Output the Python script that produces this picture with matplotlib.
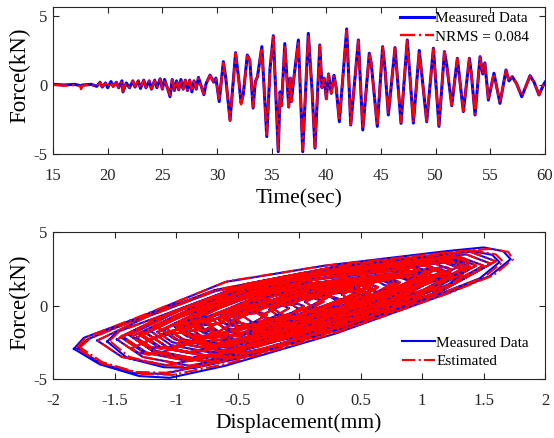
import matplotlib
matplotlib.use("Agg")
import matplotlib.pyplot as plt
import numpy as np

plt.rcParams['font.family'] = ['Liberation Serif', 'DejaVu Serif']
plt.rcParams['axes.unicode_minus'] = False

# ---------------- top panel: force time history (extrema) -------------
time_sec = [15.0, 16.0, 17.0, 17.5, 17.56, 17.7, 18.0, 18.5, 19.0, 19.3, 19.5, 19.8, 20.0, 20.3,
            20.5, 20.8, 21.0, 21.3, 21.4, 21.7, 22.0, 22.3, 22.5, 22.8, 23.0, 23.3, 23.5, 23.8,
            24.0, 24.3, 24.5, 24.8, 25.0, 25.2, 25.5, 25.7, 25.9, 26.1, 26.3, 26.5, 26.7, 26.9,
            27.1, 27.3, 27.5, 27.7, 27.9, 28.1, 28.3, 28.6, 28.8, 29.0, 29.36, 29.7, 29.9, 30.2,
            30.58, 30.8, 31.19, 31.7, 32.0, 32.2, 32.4, 32.77, 33.0, 33.3, 33.5, 33.7, 34.1, 34.55,
            34.85, 35.15, 35.6, 35.77, 35.9, 36.2, 36.56, 36.7, 36.8, 37.0, 37.44, 37.84, 38.35,
            38.7, 38.96, 39.4, 39.6, 39.8, 40.0, 40.2, 40.45, 40.7, 40.9, 41.19, 41.86, 42.23,
            42.93, 43.33, 43.93, 44.1, 44.66, 45.15, 45.35, 45.67, 46.28, 46.83, 47.4, 47.96,
            48.5, 49.18, 49.79, 50.3, 50.8, 51.0, 51.47, 51.98, 52.53, 53.08, 53.25, 53.6, 54.06,
            54.3, 54.5, 54.82, 55.33, 55.88, 56.43, 56.7, 57.0, 57.4, 57.87, 58.63, 59.0, 59.45,
            59.85, 60.0]
force_measured = [0.05, 0.0, 0.05, -0.05, -0.05, 0.0, 0.02, 0.05, -0.1, 0.2, -0.15, 0.15, -0.2, 0.25,
                  -0.1, 0.2, -0.2, 0.3, -0.5, 0.15, -0.2, 0.3, -0.15, 0.3, -0.25, 0.35, -0.2, 0.3,
                  -0.3, 0.35, -0.2, 0.45, -0.3, 0.4, -0.3, -0.85, 0.4, -0.4, 0.3, -0.35, 0.4, -0.3,
                  0.35, -0.4, 0.35, -0.5, 0.3, -0.3, 0.55, -0.2, -0.7, 0.1, 0.72, 0.2, 0.5, -1.2,
                  1.69, 0.5, -2.54, 2.34, 0.3, -1.3, -0.7, 2.17, 1.8, -1.67, 0.24, 0.6, 2.78, -3.74,
                  1.2, 3.57, -4.83, -0.5, -1.5, 3.0, -1.6, 0.5, -1.2, 0.3, 3.26, -4.83, 3.74,
                  -0.5, -4.57, 2.9, -0.2, 0.5, -1.0, 0.8, -0.6, 0.7, -0.2, -2.66, 4.06, -2.9,
                  3.26, -3.26, 2.3, 1.6, -3.0, 2.78, 1.3, -2.17, 2.71, -2.78, 3.26, -2.76,
                  2.5, -2.66, 2.66, -3.0, 2.42, 1.5, -1.5, 1.93, -1.93, 1.93, 0.9, -2.17, 2.05,
                  0.8, 1.6, -1.09, 0.85, -1.33, 1.09, 0.3, 0.6, 0.1, -0.85, 0.68, 0.2, -0.72,
                  0.0, 0.2]
force_estimated = [0.02, -0.05, 0.0, -0.1, -0.3, -0.05, -0.02, 0.0, -0.12, 0.18, -0.12, 0.12, -0.15, 0.22,
                   -0.12, 0.18, -0.18, 0.28, -0.45, 0.12, -0.18, 0.28, -0.12, 0.28, -0.22, 0.32, -0.18, 0.28,
                   -0.28, 0.32, -0.18, 0.42, -0.28, 0.38, -0.28, -0.75, 0.38, -0.38, 0.28, -0.32, 0.38, -0.28,
                   0.32, -0.38, 0.32, -0.45, 0.28, -0.28, 0.5, -0.2, -0.65, 0.1, 0.7, 0.2, 0.45, -1.1,
                   1.6, 0.5, -2.6, 2.3, 0.3, -1.4, -0.7, 2.1, 1.8, -1.6, 0.2, 0.6, 2.7, -3.6,
                   1.2, 3.5, -4.7, -0.5, -1.5, 2.9, -1.6, 0.5, -1.2, 0.3, 3.2, -4.7, 3.65,
                   -0.5, -4.5, 2.85, -0.2, 0.5, -1.0, 0.8, -0.6, 0.7, -0.2, -2.6, 3.95, -2.85,
                   3.2, -3.2, 2.3, 1.6, -2.95, 2.75, 1.3, -2.1, 2.65, -2.7, 3.2, -2.7,
                   2.45, -2.6, 2.6, -2.9, 2.4, 1.5, -1.45, 1.9, -1.9, 1.9, 0.9, -2.1, 2.0,
                   0.8, 1.55, -1.05, 0.85, -1.3, 1.05, 0.3, 0.6, 0.1, -0.8, 0.65, 0.2, -0.7,
                   0.0, 0.2]

# ---------------- bottom panel: force-displacement loops -------------
# three outermost loops, 16 vertices per loop
outer_disp_measured = [-1.83, -1.75, -1.30, -0.60, 0.20, 1.20, 1.50, 1.66, 1.72, 1.55, 1.20, 0.30, -0.60, -1.05, -1.30, -1.62,
                       -1.56, -1.48, -1.07, -0.44, 0.28, 1.15, 1.41, 1.57, 1.63, 1.47, 1.18, 0.37, -0.44, -0.85, -1.10, -1.40,
                       -1.80, -1.72, -1.32, -0.69, 0.03, 0.92, 1.16, 1.32, 1.38, 1.22, 0.93, 0.12, -0.69, -1.10, -1.35, -1.62]
outer_force_measured = [-2.95, -2.20, -0.80, 1.60, 2.70, 3.70, 3.95, 3.70, 3.15, 2.00, 0.80, -1.90, -4.10, -4.92, -4.80, -4.00,
                        -2.45, -1.80, -0.54, 1.44, 2.61, 3.45, 3.69, 3.45, 2.95, 1.85, 0.90, -1.53, -3.51, -4.25, -4.20, -3.55,
                        -2.90, -2.30, -0.94, 1.04, 2.21, 3.05, 3.29, 3.05, 2.55, 1.45, 0.50, -1.93, -3.91, -4.65, -4.60, -3.90]
outer_disp_estimated = [-1.81, -1.73, -1.28, -0.58, 0.22, 1.25, 1.55, 1.70, 1.74, 1.58, 1.22, 0.32, -0.58, -1.03, -1.28, -1.60,
                        -1.54, -1.46, -1.05, -0.42, 0.30, 1.17, 1.43, 1.60, 1.66, 1.50, 1.20, 0.39, -0.42, -0.83, -1.08, -1.38,
                        -1.78, -1.70, -1.30, -0.67, 0.05, 0.94, 1.18, 1.34, 1.40, 1.25, 0.95, 0.14, -0.67, -1.08, -1.33, -1.60]
outer_force_estimated = [-2.90, -2.15, -0.70, 1.65, 2.72, 3.65, 3.85, 3.65, 3.15, 2.05, 0.85, -1.80, -3.95, -4.72, -4.65, -3.95,
                         -2.40, -1.75, -0.50, 1.48, 2.63, 3.48, 3.72, 3.48, 2.98, 1.90, 0.95, -1.50, -3.45, -4.17, -4.12, -3.50,
                         -2.85, -2.25, -0.90, 1.08, 2.25, 3.07, 3.30, 3.08, 2.58, 1.50, 0.55, -1.88, -3.85, -4.57, -4.52, -3.85]
# inner loops, 11 vertices per loop (shared by both series)
inner_disp = [-1.24, -0.84, -0.28, 0.36, 1.36, 1.56, 1.16, 0.44, -0.28, -0.68, -1.04,
              -1.64, -1.24, -0.68, -0.04, 0.96, 1.16, 0.76, 0.04, -0.68, -1.08, -1.44,
              -1.44, -1.04, -0.48, 0.16, 1.16, 1.36, 0.96, 0.24, -0.48, -0.88, -1.24,
              -1.01, -0.66, -0.17, 0.39, 1.27, 1.44, 1.09, 0.46, -0.17, -0.52, -0.84,
              -1.36, -1.01, -0.52, 0.04, 0.92, 1.09, 0.74, 0.11, -0.52, -0.87, -1.19,
              -1.21, -0.86, -0.37, 0.19, 1.07, 1.24, 0.89, 0.26, -0.37, -0.72, -1.04,
              -0.78, -0.48, -0.06, 0.42, 1.17, 1.32, 1.02, 0.48, -0.06, -0.36, -0.63,
              -1.28, -0.98, -0.56, -0.08, 0.67, 0.82, 0.52, -0.02, -0.56, -0.86, -1.13,
              -1.08, -0.78, -0.36, 0.12, 0.87, 1.02, 0.72, 0.18, -0.36, -0.66, -0.93,
              -0.70, -0.45, -0.10, 0.30, 0.93, 1.05, 0.80, 0.35, -0.10, -0.35, -0.58,
              -1.15, -0.90, -0.55, -0.15, 0.48, 0.60, 0.35, -0.10, -0.55, -0.80, -1.03,
              -0.85, -0.60, -0.25, 0.15, 0.78, 0.90, 0.65, 0.20, -0.25, -0.50, -0.73,
              -0.62, -0.42, -0.14, 0.18, 0.68, 0.78, 0.58, 0.22, -0.14, -0.34, -0.52,
              -0.87, -0.67, -0.39, -0.07, 0.43, 0.53, 0.33, -0.03, -0.39, -0.59, -0.77,
              -0.54, -0.39, -0.18, 0.06, 0.44, 0.51, 0.36, 0.09, -0.18, -0.33, -0.47,
              -0.24, -0.09, 0.12, 0.36, 0.74, 0.81, 0.66, 0.39, 0.12, -0.03, -0.17,
              -0.84, -0.69, -0.48, -0.24, 0.14, 0.21, 0.06, -0.21, -0.48, -0.63, -0.77,
              -0.93, -0.63, -0.21, 0.27, 1.02, 1.17, 0.87, 0.33, -0.21, -0.51, -0.78,
              -1.00, -0.75, -0.40, 0.00, 0.63, 0.75, 0.50, 0.05, -0.40, -0.65, -0.88,
              -0.47, -0.27, 0.01, 0.33, 0.83, 0.93, 0.73, 0.37, 0.01, -0.19, -0.37,
              -1.11, -0.76, -0.27, 0.29, 1.17, 1.34, 0.99, 0.36, -0.27, -0.62, -0.94,
              -1.03, -0.86, -0.61, -0.33, 0.11, 0.20, 0.02, -0.30, -0.61, -0.79, -0.94,
              -0.23, -0.06, 0.19, 0.47, 0.91, 1.00, 0.82, 0.51, 0.19, 0.02, -0.14,
              -0.63, -0.46, -0.21, 0.07, 0.51, 0.60, 0.42, 0.11, -0.21, -0.39, -0.54,
              -1.01, -0.79, -0.47, -0.11, 0.45, 0.57, 0.34, -0.07, -0.47, -0.70, -0.90,
              -0.51, -0.29, 0.03, 0.39, 0.95, 1.07, 0.84, 0.44, 0.03, -0.20, -0.40,
              -0.91, -0.69, -0.37, -0.01, 0.55, 0.67, 0.44, 0.04, -0.37, -0.60, -0.80,
              -0.89, -0.62, -0.23, 0.21, 0.90, 1.04, 0.76, 0.27, -0.23, -0.51, -0.75,
              -1.29, -1.02, -0.63, -0.19, 0.50, 0.64, 0.36, -0.14, -0.63, -0.91, -1.15,
              -0.74, -0.47, -0.08, 0.36, 1.05, 1.19, 0.91, 0.42, -0.08, -0.36, -0.60,
              -1.17, -0.85, -0.39, 0.13, 0.94, 1.11, 0.78, 0.20, -0.39, -0.72, -1.01,
              -1.32, -1.00, -0.54, -0.02, 0.79, 0.96, 0.63, 0.05, -0.54, -0.87, -1.16,
              -1.25, -0.88, -0.35, 0.25, 1.19, 1.38, 1.00, 0.33, -0.35, -0.73, -1.06,
              -1.45, -1.08, -0.55, 0.05, 0.99, 1.18, 0.80, 0.13, -0.55, -0.93, -1.26,
              -1.48, -1.06, -0.46, 0.22, 1.28, 1.50, 1.07, 0.31, -0.46, -0.89, -1.27,
              -1.38, -0.96, -0.36, 0.32, 1.38, 1.60, 1.17, 0.41, -0.36, -0.79, -1.17,
              -0.30, -0.18, 0.00, 0.20, 0.51, 0.58, 0.45, 0.23, 0.00, -0.13, -0.24,
              -0.65, -0.53, -0.35, -0.15, 0.16, 0.23, 0.10, -0.13, -0.35, -0.48, -0.59,
              0.24, 0.34, 0.48, 0.64, 0.89, 0.94, 0.84, 0.66, 0.48, 0.38, 0.29,
              0.54, 0.64, 0.78, 0.94, 1.19, 1.24, 1.14, 0.96, 0.78, 0.68, 0.59,
              -0.96, -0.86, -0.72, -0.56, -0.31, -0.26, -0.36, -0.54, -0.72, -0.82, -0.91,
              -1.26, -1.16, -1.02, -0.86, -0.61, -0.56, -0.66, -0.84, -1.02, -1.12, -1.21,
              -0.06, 0.04, 0.18, 0.34, 0.59, 0.64, 0.54, 0.36, 0.18, 0.08, -0.01,
              -0.66, -0.56, -0.42, -0.26, -0.01, 0.04, -0.06, -0.24, -0.42, -0.52, -0.61,
              0.05, 0.18, 0.35, 0.55, 0.86, 0.93, 0.80, 0.58, 0.35, 0.23, 0.11,
              -0.95, -0.83, -0.65, -0.45, -0.14, -0.08, -0.20, -0.43, -0.65, -0.78, -0.89,
              0.35, 0.48, 0.65, 0.85, 1.16, 1.23, 1.10, 0.88, 0.65, 0.53, 0.41,
              -0.35, -0.23, -0.05, 0.15, 0.46, 0.53, 0.40, 0.18, -0.05, -0.18, -0.29,
              -0.55, -0.43, -0.25, -0.05, 0.26, 0.33, 0.20, -0.03, -0.25, -0.38, -0.49,
              0.64, 0.74, 0.88, 1.04, 1.29, 1.34, 1.24, 1.06, 0.88, 0.78, 0.69,
              -1.36, -1.26, -1.12, -0.96, -0.71, -0.66, -0.76, -0.94, -1.12, -1.22, -1.31]
inner_force = [-1.88, -0.28, 1.48, 2.52, 3.48, 2.84, 1.00, -1.16, -2.92, -3.56, -3.00,
               -2.38, -0.78, 0.98, 2.02, 2.98, 2.34, 0.50, -1.66, -3.42, -4.06, -3.50,
               -2.08, -0.48, 1.28, 2.32, 3.28, 2.64, 0.80, -1.36, -3.12, -3.76, -3.20,
               -1.42, -0.02, 1.52, 2.43, 3.27, 2.71, 1.10, -0.79, -2.33, -2.89, -2.40,
               -2.12, -0.72, 0.82, 1.73, 2.57, 2.01, 0.40, -1.49, -3.03, -3.59, -3.10,
               -1.72, -0.32, 1.22, 2.13, 2.97, 2.41, 0.80, -1.09, -2.63, -3.19, -2.70,
               -1.06, 0.14, 1.46, 2.24, 2.96, 2.48, 1.10, -0.52, -1.84, -2.32, -1.90,
               -1.96, -0.76, 0.56, 1.34, 2.06, 1.58, 0.20, -1.42, -2.74, -3.22, -2.80,
               -1.56, -0.36, 0.96, 1.74, 2.46, 1.98, 0.60, -1.02, -2.34, -2.82, -2.40,
               -1.00, 0.00, 1.10, 1.75, 2.35, 1.95, 0.80, -0.55, -1.65, -2.05, -1.70,
               -1.80, -0.80, 0.30, 0.95, 1.55, 1.15, 0.00, -1.35, -2.45, -2.85, -2.50,
               -1.30, -0.30, 0.80, 1.45, 2.05, 1.65, 0.50, -0.85, -1.95, -2.35, -2.00,
               -0.84, -0.04, 0.84, 1.36, 1.84, 1.52, 0.60, -0.48, -1.36, -1.68, -1.40,
               -1.34, -0.54, 0.34, 0.86, 1.34, 1.02, 0.10, -0.98, -1.86, -2.18, -1.90,
               -0.78, -0.18, 0.48, 0.87, 1.23, 0.99, 0.30, -0.51, -1.17, -1.41, -1.20,
               -0.28, 0.32, 0.98, 1.37, 1.73, 1.49, 0.80, -0.01, -0.67, -0.91, -0.70,
               -1.28, -0.68, -0.02, 0.37, 0.73, 0.49, -0.20, -1.01, -1.67, -1.91, -1.70,
               -1.31, -0.11, 1.21, 1.99, 2.71, 2.23, 0.85, -0.77, -2.09, -2.57, -2.15,
               -1.50, -0.50, 0.60, 1.25, 1.85, 1.45, 0.30, -1.05, -2.15, -2.55, -2.20,
               -0.64, 0.16, 1.04, 1.56, 2.04, 1.72, 0.80, -0.28, -1.16, -1.48, -1.20,
               -1.62, -0.22, 1.32, 2.23, 3.07, 2.51, 0.90, -0.99, -2.53, -3.09, -2.60,
               -1.81, -1.11, -0.34, 0.12, 0.54, 0.26, -0.55, -1.50, -2.27, -2.55, -2.30,
               -0.11, 0.59, 1.36, 1.82, 2.24, 1.96, 1.15, 0.21, -0.57, -0.85, -0.60,
               -0.61, 0.09, 0.86, 1.32, 1.74, 1.46, 0.65, -0.30, -1.07, -1.35, -1.10,
               -1.27, -0.37, 0.62, 1.21, 1.75, 1.39, 0.35, -0.87, -1.86, -2.22, -1.90,
               -0.97, -0.07, 0.92, 1.51, 2.05, 1.69, 0.65, -0.57, -1.56, -1.92, -1.60,
               -1.87, -0.97, 0.02, 0.61, 1.15, 0.79, -0.25, -1.47, -2.46, -2.82, -2.50,
               -0.93, 0.17, 1.38, 2.10, 2.76, 2.32, 1.05, -0.44, -1.65, -2.09, -1.70,
               -2.03, -0.93, 0.28, 1.00, 1.66, 1.22, -0.05, -1.54, -2.75, -3.19, -2.80,
               -1.53, -0.43, 0.78, 1.50, 2.16, 1.72, 0.45, -1.04, -2.25, -2.69, -2.30,
               -1.39, -0.09, 1.34, 2.19, 2.97, 2.45, 0.95, -0.81, -2.24, -2.76, -2.30,
               -2.19, -0.89, 0.54, 1.39, 2.17, 1.65, 0.15, -1.61, -3.04, -3.56, -3.10,
               -1.85, -0.35, 1.30, 2.28, 3.18, 2.58, 0.85, -1.18, -2.83, -3.43, -2.90,
               -2.15, -0.65, 1.00, 1.98, 2.88, 2.28, 0.55, -1.48, -3.13, -3.73, -3.20,
               -2.31, -0.61, 1.26, 2.37, 3.39, 2.71, 0.75, -1.55, -3.42, -4.10, -3.50,
               -2.01, -0.31, 1.56, 2.67, 3.69, 3.01, 1.05, -1.25, -3.12, -3.80, -3.20,
               -0.65, -0.15, 0.40, 0.73, 1.03, 0.83, 0.25, -0.43, -0.98, -1.18, -1.00,
               -0.95, -0.45, 0.10, 0.43, 0.73, 0.53, -0.05, -0.73, -1.28, -1.48, -1.30,
               0.68, 1.08, 1.52, 1.78, 2.02, 1.86, 1.40, 0.86, 0.42, 0.26, 0.40,
               1.28, 1.68, 2.12, 2.38, 2.62, 2.46, 2.00, 1.46, 1.02, 0.86, 1.00,
               -1.82, -1.42, -0.98, -0.72, -0.48, -0.64, -1.10, -1.64, -2.08, -2.24, -2.10,
               -2.52, -2.12, -1.68, -1.42, -1.18, -1.34, -1.80, -2.34, -2.78, -2.94, -2.80,
               0.08, 0.48, 0.92, 1.18, 1.42, 1.26, 0.80, 0.26, -0.18, -0.34, -0.20,
               -1.22, -0.82, -0.38, -0.12, 0.12, -0.04, -0.50, -1.04, -1.48, -1.64, -1.50,
               0.25, 0.75, 1.30, 1.63, 1.93, 1.73, 1.15, 0.48, -0.08, -0.28, -0.10,
               -1.65, -1.15, -0.60, -0.28, 0.03, -0.18, -0.75, -1.43, -1.98, -2.18, -2.00,
               0.75, 1.25, 1.80, 2.13, 2.43, 2.23, 1.65, 0.98, 0.43, 0.23, 0.40,
               -0.45, 0.05, 0.60, 0.93, 1.23, 1.03, 0.45, -0.23, -0.78, -0.98, -0.80,
               -1.05, -0.55, 0.00, 0.33, 0.63, 0.43, -0.15, -0.83, -1.38, -1.58, -1.40,
               1.68, 2.08, 2.52, 2.78, 3.02, 2.86, 2.40, 1.86, 1.42, 1.26, 1.40,
               -2.92, -2.52, -2.08, -1.82, -1.58, -1.74, -2.20, -2.74, -3.18, -3.34, -3.20]

OUTER_VERTS = 16
INNER_VERTS = 11


def closed_loops(values, n):
    arr = np.asarray(values, dtype=float).reshape(-1, n)
    gap = np.full((arr.shape[0], 1), np.nan)
    return np.hstack([arr, arr[:, :1], gap]).ravel()


blue = '#0000FF'
red = '#FF0000'
axis_col = '#262626'

fig = plt.figure(figsize=(5.54, 4.38), dpi=100)
ax1 = fig.add_axes([0.0957, 0.6484, 0.8881, 0.3356])
ax2 = fig.add_axes([0.0957, 0.1347, 0.8881, 0.3356])

l1, = ax1.plot(time_sec, force_measured, color=blue, lw=2.2, label='Measured Data')
l2, = ax1.plot(time_sec, force_estimated, color=red, lw=1.7, ls='-.', label='NRMS = 0.084')
ax1.set_xlim(15, 60)
ax1.set_ylim(-5, 5.65)
ax1.set_xticks(np.arange(15, 61, 5))
ax1.set_yticks([-5, 0, 5])
ax1.set_xlabel('Time(sec)', fontsize=15.5)
ax1.set_ylabel('Force(kN)', fontsize=16.5)
ax1.xaxis.set_label_coords(0.5, -0.24)
ax1.yaxis.set_label_coords(-0.047, 0.535)
ax1.legend(handles=[l1, l2], loc='upper right', bbox_to_anchor=(0.9675, 0.968), frameon=False,
           fontsize=11, handlelength=2.2, handletextpad=0.08, labelspacing=0.3,
           borderaxespad=0.0, borderpad=0.0)

hd_m = np.concatenate([closed_loops(outer_disp_measured, OUTER_VERTS), closed_loops(inner_disp, INNER_VERTS)])
hf_m = np.concatenate([closed_loops(outer_force_measured, OUTER_VERTS), closed_loops(inner_force, INNER_VERTS)])
hd_e = np.concatenate([closed_loops(outer_disp_estimated, OUTER_VERTS), closed_loops(inner_disp, INNER_VERTS)])
hf_e = np.concatenate([closed_loops(outer_force_estimated, OUTER_VERTS), closed_loops(inner_force, INNER_VERTS)])
b1, = ax2.plot(hd_m, hf_m, color=blue, lw=1.5, label='Measured Data')
b2, = ax2.plot(hd_e, hf_e, color=red, lw=1.5, ls='-.', label='Estimated')
ax2.set_xlim(-2, 2)
ax2.set_ylim(-5, 5)
ax2.set_xticks([-2, -1.5, -1, -0.5, 0, 0.5, 1, 1.5, 2])
ax2.set_xticklabels(['-2', '-1.5', '-1', '-0.5', '0', '0.5', '1', '1.5', '2'])
ax2.set_yticks([-5, 0, 5])
ax2.set_xlabel('Displacement(mm)', fontsize=15.5)
ax2.set_ylabel('Force(kN)', fontsize=16.5)
ax2.xaxis.set_label_coords(0.5, -0.235)
ax2.yaxis.set_label_coords(-0.047, 0.525)
ax2.legend(handles=[b1, b2], loc='lower right', bbox_to_anchor=(0.9675, 0.075), frameon=False,
           fontsize=11, handlelength=2.2, handletextpad=0.08, labelspacing=0.3,
           borderaxespad=0.0, borderpad=0.0)

for ax in (ax1, ax2):
    ax.tick_params(direction='in', top=True, right=True, length=4, width=0.8,
                   labelsize=12, colors=axis_col, labelcolor='#262626')
    ax.tick_params(axis='x', pad=10)
    ax.tick_params(axis='y', pad=4)
    for s in ax.spines.values():
        s.set_color(axis_col)
        s.set_linewidth(0.8)

fig.savefig('out.png', dpi=100)
